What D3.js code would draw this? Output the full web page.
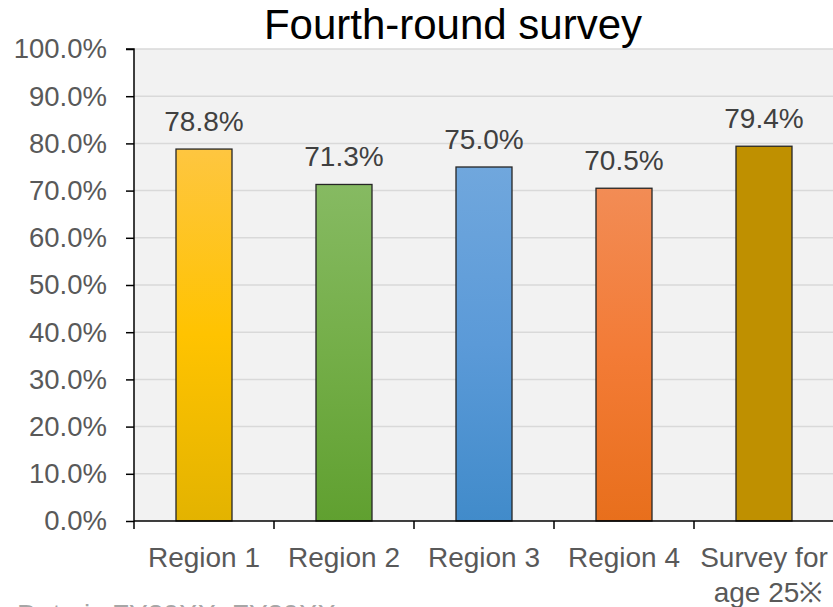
<!DOCTYPE html>
<html>
<head>
<meta charset="utf-8">
<script src="https://cdn.jsdelivr.net/npm/d3@7"></script>
<style>
	body { margin: 0; background: #fff; }
	text { font-family: "Liberation Sans", Arial, sans-serif; }
</style>
</head>
<body>
<div id="graphContainer"></div>
<script>
var categories = ["Region 1", "Region 2", "Region 3", "Region 4", "Survey for|age 25\u203B"];
var values = [78.8, 71.3, 75.0, 70.5, 79.4];
var yTicks = [0, 10, 20, 30, 40, 50, 60, 70, 80, 90, 100];
var barTop = ["#fec640", "#86ba62", "#70a7dd", "#f28c55", "#bf9000"];
var barMid = ["#ffc300", "#74ae48", "#5b9ad8", "#f37b36", "#bf9000"];
var barBottom = ["#e3b300", "#60a030", "#418bca", "#e86f1c", "#bf9000"];
var titleText = "Fourth-round survey";
var noteText = "Data is FY20XX\u2013FY20XX";

window.onload = function()
{
	GenerateGraph();
}

function GenerateGraph()
{
	var width = 833, height = 607;
	var left = 134, right = 834, top = 49, bottom = 521;

	var svg = d3.select("#graphContainer").append("svg")
		.attr("width", width)
		.attr("height", height);

	var x = d3.scaleBand()
		.domain(categories)
		.range([left, right])
		.paddingInner(0.6)
		.paddingOuter(0.3);

	var y = d3.scaleLinear()
		.domain([0, 100])
		.range([bottom, top]);

	/* gradients */
	var defs = svg.append("defs");
	categories.forEach(function(c, i) {
		var g = defs.append("linearGradient")
			.attr("id", "grad" + i)
			.attr("x1", 0).attr("y1", 0).attr("x2", 0).attr("y2", 1);
		g.append("stop").attr("offset", "0%").attr("stop-color", barTop[i]);
		g.append("stop").attr("offset", "50%").attr("stop-color", barMid[i]);
		g.append("stop").attr("offset", "100%").attr("stop-color", barBottom[i]);
	});

	/* plot area */
	svg.append("rect")
		.attr("x", left)
		.attr("y", top)
		.attr("width", right - left)
		.attr("height", bottom - top)
		.attr("fill", "#f2f2f2");

	/* grid */
	svg.append("g")
		.selectAll("line")
		.data(yTicks.slice(1))
		.enter().append("line")
		.attr("x1", left)
		.attr("x2", right)
		.attr("y1", d => y(d))
		.attr("y2", d => y(d))
		.attr("stroke", "#d9d9d9")
		.attr("stroke-width", 1.5);

	/* title */
	svg.append("text")
		.attr("x", 453)
		.attr("y", 39)
		.attr("text-anchor", "middle")
		.attr("font-size", "42px")
		.attr("fill", "#000")
		.text(titleText);

	/* bars */
	svg.append("g")
		.selectAll("rect")
		.data(values)
		.enter().append("rect")
		.attr("x", (d, i) => x(categories[i]))
		.attr("y", d => y(d))
		.attr("width", x.bandwidth())
		.attr("height", d => y(0) - y(d))
		.attr("fill", (d, i) => "url(#grad" + i + ")")
		.attr("stroke", "#262626")
		.attr("stroke-width", 1.3);

	/* value labels */
	svg.append("g")
		.selectAll("text")
		.data(values)
		.enter().append("text")
		.attr("x", (d, i) => x(categories[i]) + x.bandwidth() / 2)
		.attr("y", d => y(d) - 18)
		.attr("text-anchor", "middle")
		.attr("font-size", "28px")
		.attr("fill", "#404040")
		.text(d => d.toFixed(1) + "%");

	/* y axis */
	var yAxis = d3.axisLeft(y)
		.tickValues(yTicks)
		.tickSize(8)
		.tickPadding(19)
		.tickFormat(d => d.toFixed(1) + "%");

	var ya = svg.append("g")
		.attr("transform", `translate(${left}, 0)`)
		.call(yAxis);
	ya.select(".domain").attr("stroke", "#000").attr("stroke-width", 1.5)
		.attr("d", `M-8,${top}H0V${bottom + 8}`);
	ya.selectAll(".tick line").attr("stroke", "#000").attr("stroke-width", 1.5);
	ya.selectAll(".tick text")
		.attr("font-size", "27.5px")
		.attr("fill", "#595959")
		.attr("font-family", "Liberation Sans, Arial, sans-serif");

	/* x axis */
	var xa = svg.append("g");
	xa.append("line")
		.attr("x1", left).attr("x2", right)
		.attr("y1", bottom).attr("y2", bottom)
		.attr("stroke", "#000").attr("stroke-width", 1.5);
	var step = x.step();
	xa.selectAll(".xtick")
		.data(categories.slice(1))
		.enter().append("line")
		.attr("class", "xtick")
		.attr("x1", d => x(d) - step * 0.3)
		.attr("x2", d => x(d) - step * 0.3)
		.attr("y1", bottom)
		.attr("y2", bottom + 8)
		.attr("stroke", "#000").attr("stroke-width", 1.5);

	var labels = xa.selectAll(".xlabel")
		.data(categories)
		.enter().append("text")
		.attr("class", "xlabel")
		.attr("x", d => x(d) + x.bandwidth() / 2)
		.attr("y", 567)
		.attr("text-anchor", "middle")
		.attr("font-size", "28px")
		.attr("fill", "#595959");
	labels.each(function(d) {
		var parts = d.split("|");
		var t = d3.select(this);
		parts.forEach(function(p, k) {
			t.append("tspan")
				.attr("x", +t.attr("x") + (k == 0 ? 0 : 4))
				.attr("dy", k == 0 ? 0 : 35)
				.text(p);
		});
	});

	/* note, cut off at the bottom edge */
	svg.append("text")
		.attr("x", 17)
		.attr("y", 624)
		.attr("font-size", "28px")
		.attr("fill", "#a6a6a6")
		.text(noteText);
}
</script>
</body>
</html>
